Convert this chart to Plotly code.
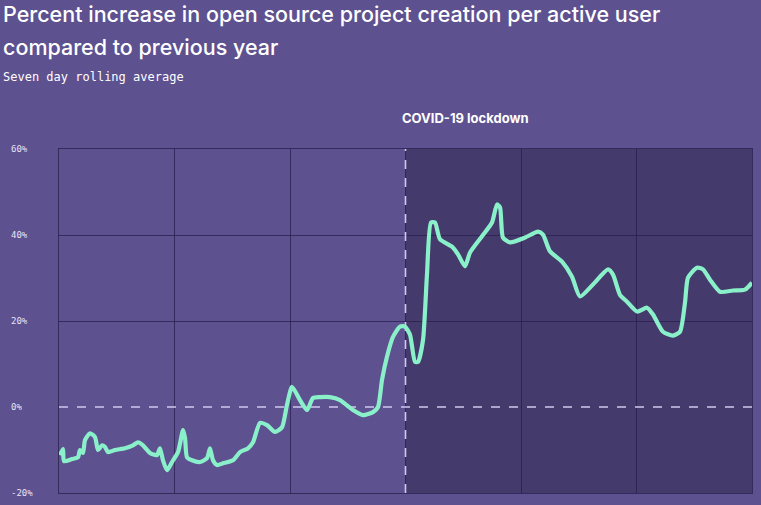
import plotly.graph_objects as go

# Data: days since start of window, percent increase (7-day rolling avg)
days = [0.26, 1.04, 1.30, 3.38, 4.94, 5.45, 6.23, 6.75, 8.05, 9.35, 10.13, 11.17, 11.95, 12.73,
        14.55, 17.14, 19.22, 20.52, 21.82, 23.64, 25.45, 26.23, 27.01, 28.05, 29.35, 30.91,
        32.21, 32.73, 33.25, 34.55, 36.62, 38.44, 39.22, 40.0, 41.04, 42.6, 45.19, 47.01,
        49.09, 50.39, 52.21, 54.03, 56.1, 57.92, 59.22, 60.52, 62.6, 64.42, 65.97, 67.79,
        70.39, 72.99, 76.36, 78.96, 81.56, 82.86, 83.9, 85.19, 86.75, 88.57, 89.87, 91.17,
        92.47, 93.25, 94.55, 95.58, 96.62, 97.66, 98.96, 102.08, 103.64, 105.45, 106.75,
        109.87, 112.47, 113.77, 114.55, 115.32, 117.14, 121.04, 124.42, 125.71, 127.53,
        130.65, 133.25, 135.32, 138.7, 142.6, 143.9, 145.71, 147.53, 150.13, 152.73, 154.29,
        156.88, 159.48, 161.3, 162.6, 163.38, 165.71, 167.27, 169.09, 171.69, 175.06, 178.18, 180.0]
pct = [-11.2, -9.8, -12.6, -12.1, -11.7, -10.0, -10.7, -7.7, -6.1, -7.0, -10.0, -8.9, -9.3, -10.5,
       -10.0, -9.6, -8.9, -8.2, -8.9, -10.7, -11.2, -9.6, -12.4, -14.7, -12.8, -10.5,
       -5.4, -7.2, -11.7, -12.4, -12.8, -11.9, -9.6, -12.4, -13.5, -13.1, -12.4, -10.5,
       -9.6, -8.2, -3.7, -4.2, -5.8, -4.7, 0.5, 4.7, 1.6, -0.7, 2.1, 2.3,
       2.3, 1.6, -0.7, -1.9, -1.2, 0.0, 6.3, 11.7, 16.3, 18.7, 18.7, 16.8,
       10.5, 10.5, 15.6, 30.8, 42.9, 42.9, 39.0, 37.3, 35.5, 32.7, 35.9,
       39.7, 42.9, 47.1, 46.4, 39.4, 38.3, 39.4, 40.8, 40.1, 36.2,
       33.8, 30.3, 25.7, 28.5, 32.0, 30.8, 26.1, 24.5, 22.2, 23.1, 21.5,
       17.5, 16.6, 17.5, 24.3, 30.1, 32.4, 32.0, 29.6, 26.8, 27.1, 27.3, 28.9]

lockdown_day = 90
x_range = [0, 180]
y_range = [-20, 60]
y_ticks = [-20, 0, 20, 40, 60]
y_tick_labels = ["-20%", "0%", "20%", "40%", "60%"]

title_line1 = "Percent increase in open source project creation per active user"
title_line2 = "compared to previous year"
subtitle = "Seven day rolling average"
event_label = "COVID-19 lockdown"

BG = "#5E5190"
SHADE = "#443A6C"
GRID = "rgba(40,30,75,0.75)"
LINE = "#8AF0C9"
DASH = "#D2C8EE"

fig = go.Figure()
fig.add_trace(go.Scatter(x=days, y=pct, mode="lines",
                         line=dict(color=LINE, width=4.2, shape="spline", smoothing=0.6),
                         hoverinfo="skip", showlegend=False))

# Lockdown shaded region
fig.add_shape(type="rect", xref="x", yref="y", x0=lockdown_day, x1=x_range[1],
              y0=y_range[0], y1=y_range[1], fillcolor=SHADE, line_width=0, layer="below")
# Zero line and lockdown line (dashed)
fig.add_shape(type="line", xref="x", yref="y", x0=x_range[0], x1=x_range[1], y0=0, y1=0,
              line=dict(color=DASH, width=1.6, dash="dash"), layer="between")
fig.add_shape(type="line", xref="x", yref="y", x0=lockdown_day, x1=lockdown_day,
              y0=y_range[0], y1=y_range[1],
              line=dict(color=DASH, width=1.6, dash="dash"), layer="between")

fig.update_xaxes(range=x_range, dtick=30, tick0=0, showgrid=True, gridcolor=GRID, gridwidth=1,
                 showticklabels=False, zeroline=False, showline=True, linecolor=GRID,
                 mirror=True, ticks="")
fig.update_yaxes(range=y_range, tickvals=[v for v in y_ticks if v != 0], showgrid=True,
                 gridcolor=GRID, gridwidth=1, showticklabels=False, zeroline=False,
                 showline=True, linecolor=GRID, mirror=True, ticks="")

annotations = []
for v, t in zip(y_ticks, y_tick_labels):
    annotations.append(dict(x=-59 / 693, y=v, xref="paper", yref="y", text=t, showarrow=False,
                            xanchor="left", yanchor="middle", xshift=9,
                            font=dict(family="DejaVu Sans Mono", size=9, color="#E8E4F5")))
annotations += [
    dict(x=0, y=1, xref="paper", yref="paper", xanchor="left", yanchor="top",
         text=title_line1, showarrow=False, xshift=-58, yshift=150,
         font=dict(family="Inter", size=21.5, weight=500, color="#FFFFFF")),
    dict(x=0, y=1, xref="paper", yref="paper", xanchor="left", yanchor="top",
         text=title_line2, showarrow=False, xshift=-58, yshift=117,
         font=dict(family="Inter", size=21.5, weight=500, color="#FFFFFF")),
    dict(x=0, y=1, xref="paper", yref="paper", xanchor="left", yanchor="top",
         text=subtitle, showarrow=False, xshift=-58, yshift=81,
         font=dict(family="DejaVu Sans Mono", size=12, color="#FFFFFF")),
    dict(x=lockdown_day, y=1, xref="x", yref="paper", xanchor="left", yanchor="bottom",
         text="<b>" + event_label + "</b>", showarrow=False, xshift=-6, yshift=21,
         font=dict(family="Inter", size=13, color="#FFFFFF")),
]

fig.update_layout(width=761, height=505, paper_bgcolor=BG, plot_bgcolor=BG,
                  margin=dict(l=59, r=9, t=149, b=12), annotations=annotations,
                  showlegend=False)

fig.write_html("out.html", config={"displayModeBar": False},
               post_script="document.body.style.margin='0';")
